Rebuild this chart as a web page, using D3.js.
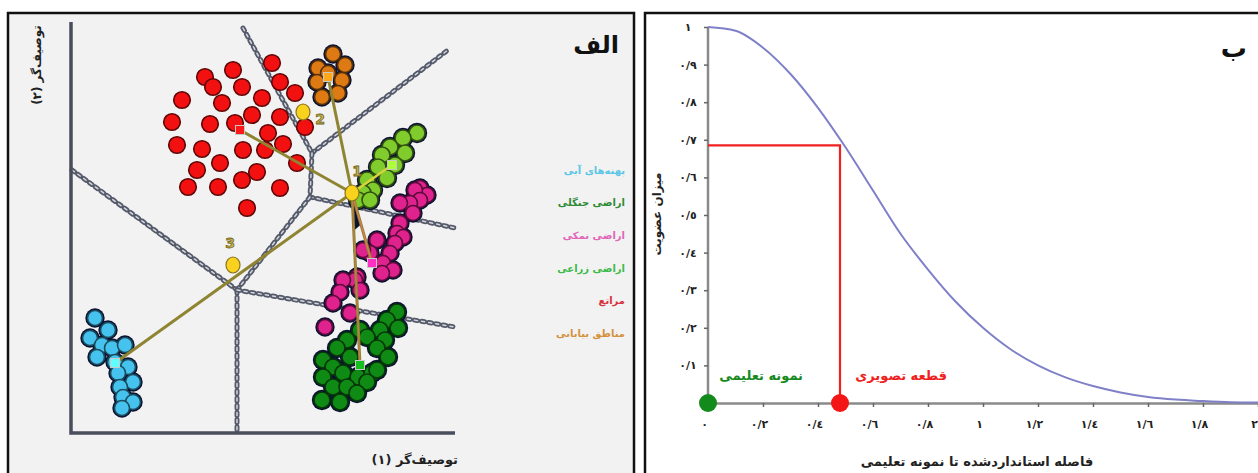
<!DOCTYPE html>
<html><head><meta charset="utf-8">
<script src="https://cdn.jsdelivr.net/npm/d3@7"></script>
<style>
body{margin:0;background:#fff}
svg{display:block}
text{font-family:"DejaVu Sans",sans-serif;font-weight:bold}
</style>
</head><body>
<svg id="chart" width="1258" height="473"></svg>
<script>
// ---------- Panel A: feature space (descriptor 1 vs descriptor 2) ----------
const classNames = ["پهنه‌های آبی", "اراضی جنگلی", "اراضی نمکی", "اراضی زراعی", "مراتع", "مناطق بیابانی"];
const classColors = ["#45c3ee", "#0f8a14", "#e0228e", "#7fcc2c", "#f21010", "#de7a14"];
const legendColors = ["#5cc6e6", "#2f8a36", "#e066b8", "#3dba4a", "#d8303c", "#d4923e"];

const waterPts = [[24,115],[37,103],[19,95],[31,88],[41,85],[54,88],[26,76],[44,71],[57,66],[47,60],[62,51],[49,46],[52,36],[62,31],[51,25]];
const forestPts = [[326,121],[316,113],[309,103],[327,105],[289,103],[296,96],[314,93],[306,85],[317,76],[276,93],[266,85],[279,76],[252,73],[262,66],[272,60],[252,56],[287,56],[301,60],[306,63],[296,51],[262,46],[276,46],[286,40],[251,33],[269,31]];
const salinePts = [[349,245],[356,238],[344,243],[349,233],[339,230],[329,230],[342,220],[329,210],[326,200],[332,196],[324,190],[306,193],[319,180],[299,180],[292,183],[312,170],[322,163],[311,160],[286,156],[284,153],[272,153],[269,141],[289,143],[262,130],[279,120],[254,106]];
const cropPts = [[346,300],[332,295],[334,280],[319,286],[311,278],[324,268],[307,266],[316,255],[296,253],[302,243],[292,240],[287,233],[299,233]];
const rangePts = [[201,370],[134,356],[162,363],[142,346],[209,351],[171,346],[224,340],[111,333],[151,330],[191,335],[101,311],[139,309],[164,310],[181,318],[209,316],[234,306],[106,288],[131,284],[172,283],[194,283],[212,289],[197,300],[149,270],[126,263],[186,261],[226,270],[117,246],[147,246],[171,253],[209,245],[176,225]];
const desertPts = [[262,379],[247,365],[274,368],[257,360],[246,351],[271,353],[251,336],[267,340]];
const clusterPts = [waterPts, forestPts, salinePts, cropPts, rangePts, desertPts];
const clusterRadius = [7.5, 8, 7.5, 8, 8.3, 7.5];

// class means (same order as classNames)
const classMeans = [[44,70],[289,68],[301,170],[321,268],[169,303],[257,356]];
// unclassified samples and their labels
const samples = [[281,240],[232,321],[162,168]];
const sampleLabels = ["1","2","3"];
const sampleLabelPos = [[286,262],[249,314],[159,190]];

// decision boundaries between classes
const boundaries = [
  [[172,405],[241,280]],
  [[241,280],[377,383]],
  [[241,280],[239,236]],
  [[239,236],[384,205]],
  [[239,236],[166,143]],
  [[1,263],[166,143]],
  [[166,143],[166,0]],
  [[166,143],[384,106]]
];

// ---------- Panel B: membership function ----------
const distance = [0,0.1,0.2,0.3,0.4,0.5,0.6,0.7,0.8,0.9,1.0,1.1,1.2,1.3,1.4,1.5,1.6,1.7,1.8,1.9,2.0];
const membership = [1.0,0.99,0.945,0.875,0.785,0.68,0.565,0.45,0.355,0.27,0.2,0.143,0.1,0.068,0.045,0.028,0.016,0.009,0.005,0.002,0.001];
const trainingSample = {d:0, m:0};
const pixelSample = {d:0.48, m:0.685};
const yTicks = [0.1,0.2,0.3,0.4,0.5,0.6,0.7,0.8,0.9,1];
const yTickLabels = ["٠/١","٠/٢","٠/٣","٠/٤","٠/٥","٠/٦","٠/٧","٠/٨","٠/٩","١"];
const xTicks = [0,0.2,0.4,0.6,0.8,1,1.2,1.4,1.6,1.8,2];
const xTickLabels = ["٠","٠/٢","٠/٤","٠/٦","٠/٨","١","١/٢","١/٤","١/٦","١/٨","٢"];

const svg = d3.select("#chart");

// ===== Panel A =====
const gA = svg.append("g");
gA.append("rect").attr("x",8).attr("y",13).attr("width",626).attr("height",480)
  .attr("fill","#f2f2f2").attr("stroke","#111").attr("stroke-width",2.5);

const xA = d3.scaleLinear().domain([0,384]).range([71,455]);
const yA = d3.scaleLinear().domain([0,411]).range([433,22]);
const lineA = d3.line().x(d=>xA(d[0])).y(d=>yA(d[1]));

// chain-styled boundaries
const gB = gA.append("g").attr("fill","none").attr("stroke-linecap","round");
boundaries.forEach(seg=>{
  gB.append("path").attr("d",lineA(seg)).attr("stroke","#555a6b").attr("stroke-width",5).attr("stroke-dasharray","3 4.2");
  gB.append("path").attr("d",lineA(seg)).attr("stroke","#d4d6dc").attr("stroke-width",1.5).attr("stroke-dasharray","3 4.2");
});

// axes of the feature space
gA.append("path").attr("d",lineA([[0,411],[0,0],[384,0]]))
  .attr("fill","none").attr("stroke","#4a4d5c").attr("stroke-width",3.5);

// clusters: dark halo underneath fills the gaps between neighbouring samples
clusterPts.forEach((pts,i)=>{
  if (i===4) return;
  gA.append("g").selectAll("circle").data(pts).join("circle")
    .attr("cx",d=>xA(d[0])).attr("cy",d=>yA(d[1])).attr("r",clusterRadius[i]+2.2)
    .attr("fill","#0b1233");
});
clusterPts.forEach((pts,i)=>{
  const c = d3.color(classColors[i]);
  gA.append("g").selectAll("circle").data(pts).join("circle")
    .attr("cx",d=>xA(d[0])).attr("cy",d=>yA(d[1])).attr("r",clusterRadius[i])
    .attr("fill",classColors[i]).attr("stroke",c.darker(2.6)).attr("stroke-width",1.6);
});

// distance lines from sample 1 to every class mean
const s1 = samples[0];
const lerp = (a,b,t)=>[a[0]+(b[0]-a[0])*t, a[1]+(b[1]-a[1])*t];
gA.append("path").attr("d",lineA([s1, lerp(s1,classMeans[2],0.45), lerp(s1,classMeans[1],0.22)])+"Z")
  .attr("fill","#0b1233");
classMeans.forEach((m,i)=>{
  const col = i===3 ? "#d8d43c" : "#8f8432";
  gA.append("path").attr("d",lineA([s1,m])).attr("stroke",col).attr("stroke-width",i===3?2.5:3).attr("fill","none");
});
gA.append("path").attr("d",lineA([s1,classMeans[2]])).attr("stroke","#f07a5a").attr("stroke-width",1).attr("fill","none");
gA.append("path").attr("d",lineA([s1,classMeans[1]])).attr("stroke","#f07a5a").attr("stroke-width",0.8).attr("fill","none").attr("opacity",0.7);

// class means
gA.append("g").selectAll("rect").data(classMeans).join("rect")
  .attr("x",d=>xA(d[0])-4.5).attr("y",d=>yA(d[1])-4.5).attr("width",9).attr("height",9)
  .attr("fill",(d,i)=>d3.color(classColors[i]).brighter(0.9)).attr("stroke","#c8c8c8").attr("stroke-width",1);

// unclassified samples
gA.append("g").selectAll("ellipse").data(samples).join("ellipse")
  .attr("cx",d=>xA(d[0])).attr("cy",d=>yA(d[1])).attr("rx",7).attr("ry",8)
  .attr("fill","#f8d21c").attr("stroke","#8a7420").attr("stroke-width",1.2);
gA.append("g").selectAll("text").data(sampleLabels).join("text")
  .attr("x",(d,i)=>xA(sampleLabelPos[i][0])).attr("y",(d,i)=>yA(sampleLabelPos[i][1]))
  .attr("text-anchor","middle").attr("dominant-baseline","central")
  .attr("font-size",14).attr("fill","#c9b64a").attr("stroke","#6e6020").attr("stroke-width",0.8)
  .text(d=>d);

// titles and axis names
gA.append("text").attr("x",619).attr("y",45).attr("text-anchor","end").attr("dominant-baseline","central")
  .attr("font-size",24).attr("fill","#111").text("الف");
gA.append("text").attr("x",458).attr("y",459).attr("text-anchor","end").attr("dominant-baseline","central")
  .attr("font-size",13).attr("fill","#222").text("توصیف‌گر (١)");
gA.append("text").attr("transform","translate(37,65) rotate(-90)").attr("text-anchor","middle").attr("dominant-baseline","central")
  .attr("font-size",12).attr("fill","#222").text("توصیف‌گر (٢)");

// legend
const legendY = [170,202,235,268,300,333];
gA.append("g").selectAll("text").data(classNames).join("text")
  .attr("x",625).attr("y",(d,i)=>legendY[i]).attr("text-anchor","end").attr("dominant-baseline","central")
  .attr("font-size",10).attr("fill",(d,i)=>legendColors[i]).text(d=>d);

// ===== Panel B =====
const gP = svg.append("g");
gP.append("rect").attr("x",645).attr("y",13).attr("width",640).attr("height",480)
  .attr("fill","#fff").attr("stroke","#111").attr("stroke-width",2.5);

const x = d3.scaleLinear().domain([0,2]).range([708,1258]);
const y = d3.scaleLinear().domain([0,1]).range([403,27]);

const yAxis = gP.append("g").attr("transform","translate(708,0)")
  .call(d3.axisLeft(y).tickValues(yTicks).tickFormat((d,i)=>yTickLabels[i]).tickSize(4).tickSizeOuter(0));
yAxis.select(".domain").attr("stroke","#8a8a8a").attr("stroke-width",2.5).attr("d","M0,"+y(0)+"V"+y(1));
yAxis.selectAll(".tick line").attr("stroke","#666").attr("stroke-width",1.5);
yAxis.selectAll(".tick text").attr("x",-20).attr("text-anchor","middle").attr("font-size",11).attr("fill","#222")
  .style("font-family","'DejaVu Sans',sans-serif").style("font-weight","bold");

const xAxis = gP.append("g").attr("transform","translate(0,403)")
  .call(d3.axisBottom(x).tickValues(xTicks).tickFormat((d,i)=>xTickLabels[i]).tickSize(4).tickSizeOuter(0));
xAxis.select(".domain").attr("stroke","#8a8a8a").attr("stroke-width",2.5);
xAxis.selectAll(".tick line").attr("stroke","#666").attr("stroke-width",1.5);
xAxis.selectAll(".tick text").attr("y",17).attr("dx",-4).attr("font-size",11).attr("fill","#222")
  .style("font-family","'DejaVu Sans',sans-serif").style("font-weight","bold");

// membership curve
gP.append("path").datum(distance.map((d,i)=>[d,membership[i]]))
  .attr("d",d3.line().x(d=>x(d[0])).y(d=>y(d[1])).curve(d3.curveMonotoneX))
  .attr("fill","none").attr("stroke","#7f80c8").attr("stroke-width",2);

// pixel sample reading
gP.append("path").attr("d",`M${x(0)},${y(pixelSample.m)}H${x(pixelSample.d)}V${y(0)}`)
  .attr("fill","none").attr("stroke","#f02020").attr("stroke-width",2.2);
gP.append("circle").attr("cx",x(trainingSample.d)).attr("cy",y(trainingSample.m)).attr("r",9).attr("fill","#138a1c");
gP.append("circle").attr("cx",x(pixelSample.d)).attr("cy",y(0)).attr("r",9).attr("fill","#f41616");

gP.append("text").attr("x",803).attr("y",375).attr("text-anchor","end").attr("dominant-baseline","central")
  .attr("font-size",13).attr("fill","#17891e").text("نمونه تعلیمی");
gP.append("text").attr("x",947).attr("y",375).attr("text-anchor","end").attr("dominant-baseline","central")
  .attr("font-size",13).attr("fill","#f02020").text("قطعه تصویری");

gP.append("text").attr("x",1247).attr("y",48).attr("text-anchor","end").attr("dominant-baseline","central")
  .attr("font-size",26).attr("fill","#111").text("ب");
gP.append("text").attr("x",977).attr("y",461).attr("text-anchor","middle").attr("dominant-baseline","central")
  .attr("font-size",13).attr("fill","#222").text("فاصله استانداردشده تا نمونه تعلیمی");
gP.append("text").attr("transform","translate(657,214) rotate(-90)").attr("text-anchor","middle").attr("dominant-baseline","central")
  .attr("font-size",12).attr("fill","#222").text("میزان عضویت");
</script>
</body></html>
